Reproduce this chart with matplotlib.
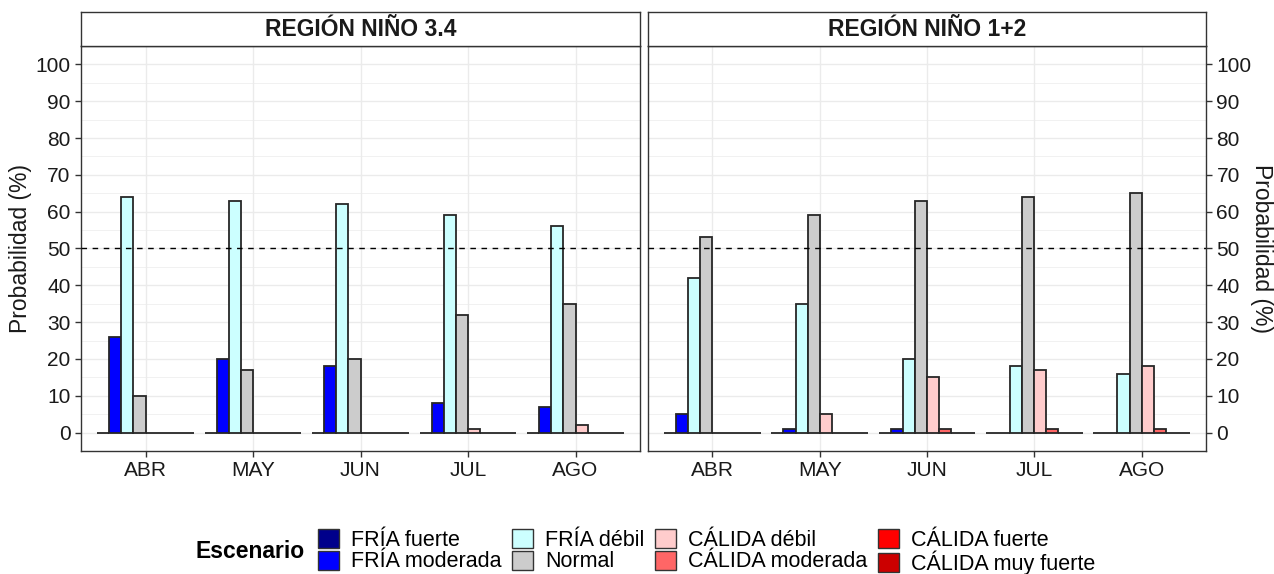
import matplotlib.pyplot as plt
import matplotlib.patches as mpatches
import numpy as np

plt.rcParams['font.family'] = ['Liberation Sans', 'DejaVu Sans']

months = ['ABR', 'MAY', 'JUN', 'JUL', 'AGO']
scenarios = ['FRÍA fuerte', 'FRÍA moderada', 'FRÍA débil', 'Normal',
             'CÁLIDA débil', 'CÁLIDA moderada', 'CÁLIDA fuerte', 'CÁLIDA muy fuerte']
colors = ['#00008B', '#0000FF', '#CCFFFF', '#CCCCCC',
          '#FFCCCC', '#FF6666', '#FF0000', '#CC0000']
regions = ['REGIÓN NIÑO 3.4', 'REGIÓN NIÑO 1+2']

# probabilidades (%) por escenario, una fila por mes
nino34 = [
    [0, 26, 64, 10, 0, 0, 0, 0],
    [0, 20, 63, 17, 0, 0, 0, 0],
    [0, 18, 62, 20, 0, 0, 0, 0],
    [0, 8, 59, 32, 1, 0, 0, 0],
    [0, 7, 56, 35, 2, 0, 0, 0],
]
nino12 = [
    [0, 5, 42, 53, 0, 0, 0, 0],
    [0, 1, 35, 59, 5, 0, 0, 0],
    [0, 1, 20, 63, 15, 1, 0, 0],
    [0, 0, 18, 64, 17, 1, 0, 0],
    [0, 0, 16, 65, 18, 1, 0, 0],
]

W, H = 1274, 574
fig = plt.figure(figsize=(W / 100, H / 100), dpi=100)


def fx(px):
    return px / W


def fy(py):
    return 1 - py / H


panels = [(81, 640), (648, 1206)]
top, bottom, strip_top = 46, 451, 12
bw = 0.9 / len(scenarios)
x = np.arange(1, len(months) + 1)

for k, (data, (x0, x1)) in enumerate(zip([nino34, nino12], panels)):
    ax = fig.add_axes([fx(x0), fy(bottom), fx(x1 - x0), (bottom - top) / H])
    vals = np.array(data)
    for i in range(len(scenarios)):
        ax.bar(x + (i - 3.5) * bw, vals[:, i], width=bw, color=colors[i],
               edgecolor='#262626', linewidth=1.3, zorder=3)
    ax.axhline(50, color='black', linestyle=(0, (4, 4)), linewidth=1, zorder=4)
    ax.set_xlim(0.4, 5.6)
    ax.set_ylim(-5, 105)
    ax.set_xticks(x)
    ax.set_xticklabels(months, fontsize=15)
    ax.set_yticks(np.arange(0, 101, 10))
    ax.set_yticks(np.arange(5, 101, 10), minor=True)
    ax.tick_params(axis='both', which='major', labelsize=15, color='#333333',
                   length=4, width=1, labelcolor='#1a1a1a')
    ax.tick_params(axis='y', which='minor', length=0)
    ax.grid(True, which='major', color='#EBEBEB', linewidth=1.0, zorder=0)
    ax.grid(True, which='minor', axis='y', color='#EBEBEB', linewidth=0.5, zorder=0)
    ax.set_axisbelow(True)
    for s in ax.spines.values():
        s.set_color('#333333')
        s.set_linewidth(1.0)
    if k == 1:
        ax.yaxis.tick_right()
        ax.set_ylabel('Probabilidad (%)', fontsize=16.5, rotation=270,
                      color='#1a1a1a', va='center', ha='center')
        ax.yaxis.set_label_coords((1262 - x0) / (x1 - x0), 0.5)
    else:
        ax.set_ylabel('Probabilidad (%)', fontsize=16.5, color='#1a1a1a',
                      va='center', ha='center')
        ax.yaxis.set_label_coords((20 - x0) / (x1 - x0), 0.5)

    sax = fig.add_axes([fx(x0), fy(top), fx(x1 - x0), (top - strip_top) / H])
    sax.set_xticks([])
    sax.set_yticks([])
    for s in sax.spines.values():
        s.set_color('#333333')
        s.set_linewidth(1.0)
    sax.text(0.5, 0.5, regions[k], ha='center', va='center', fontsize=16.5,
             fontweight='bold', color='#1a1a1a', transform=sax.transAxes)

handles = [mpatches.Patch(facecolor=c, edgecolor='#333333', linewidth=1.0)
           for c in colors]
fig.legend(handles, scenarios, loc='center left', bbox_to_anchor=(fx(318), fy(552)),
           ncol=4, frameon=False, fontsize=15.5, handlelength=0.97, handleheight=0.97,
           handletextpad=0.56, columnspacing=0.5, labelspacing=0.0,
           borderpad=0, borderaxespad=0)
fig.text(fx(305), fy(552), 'Escenario', ha='right', va='center', fontsize=16.5,
         fontweight='bold')

fig.savefig('out.png', dpi=100)
